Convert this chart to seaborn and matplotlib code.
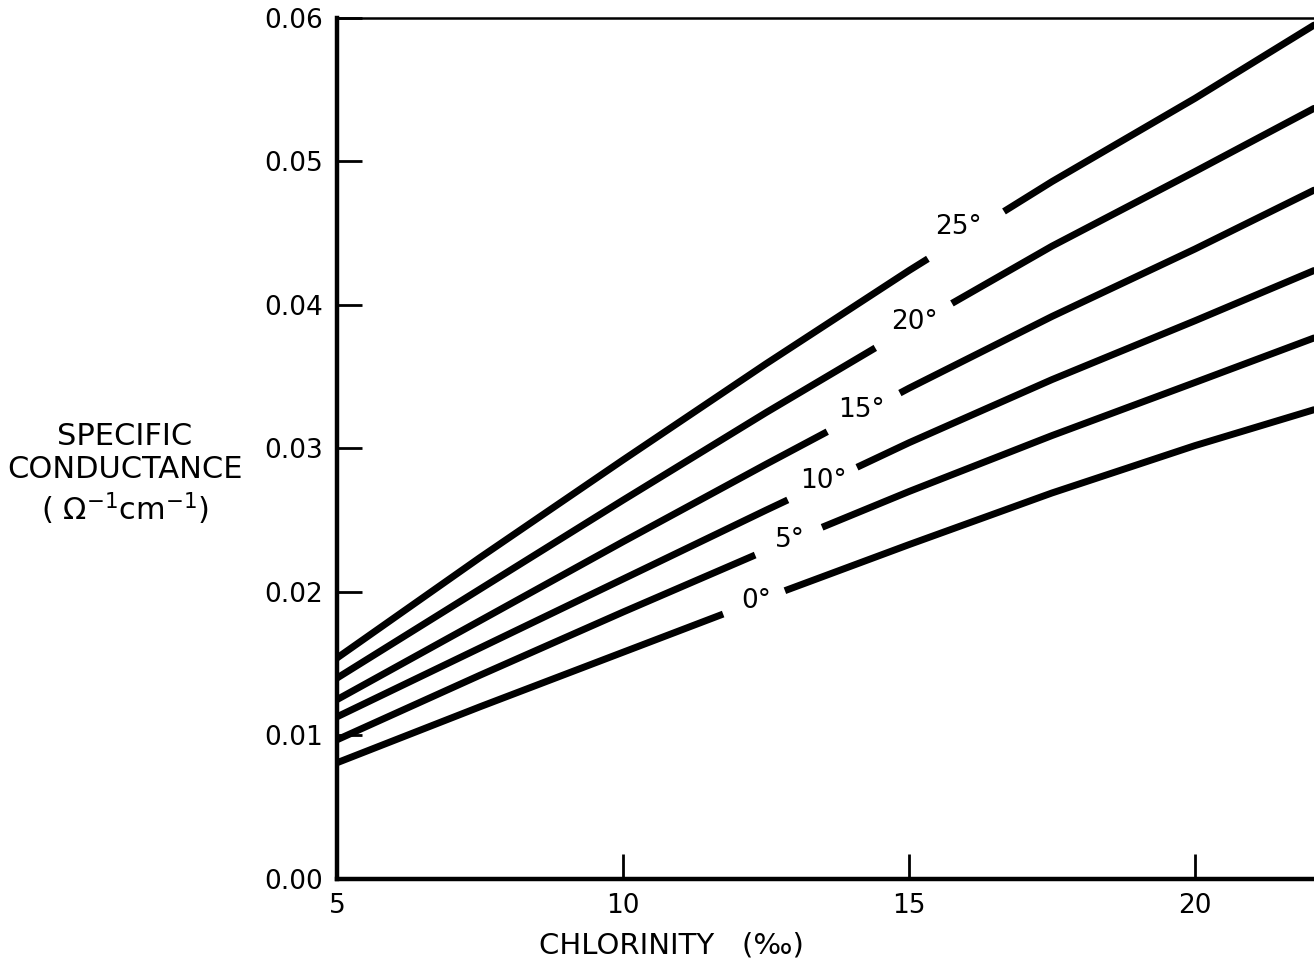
import numpy as np
import pandas as pd
import matplotlib
matplotlib.use("Agg")
import matplotlib.pyplot as plt
import seaborn as sns

# ---- data ----
chlorinity = [5, 7.5, 10, 12.5, 15, 17.5, 20, 22.08]
temperatures = ["0°", "5°", "10°", "15°", "20°", "25°"]
cond_0 = [0.0081, 0.0120, 0.0158, 0.0196, 0.0233, 0.0269, 0.0302, 0.0327]
cond_5 = [0.0097, 0.0142, 0.0186, 0.0229, 0.0270, 0.0309, 0.0346, 0.0377]
cond_10 = [0.0113, 0.0161, 0.0209, 0.0257, 0.0304, 0.0348, 0.0389, 0.0424]
cond_15 = [0.0125, 0.0180, 0.0235, 0.0289, 0.0342, 0.0392, 0.0439, 0.0480]
cond_20 = [0.0140, 0.0202, 0.0264, 0.0325, 0.0384, 0.0441, 0.0493, 0.0537]
cond_25 = [0.0154, 0.0224, 0.0292, 0.0359, 0.0424, 0.0486, 0.0544, 0.0595]

# label anchor positions (chlorinity, conductance)
label_x = [12.33, 12.92, 13.50, 14.16, 15.10, 15.86]
label_y = [0.0194, 0.0236, 0.0277, 0.0327, 0.0388, 0.0454]
# chlorinity range of the break in each curve around its label
gap_start = [11.75, 12.31, 12.88, 13.57, 14.41, 15.33]
gap_end = [12.83, 13.48, 14.09, 14.84, 15.75, 16.66]

x_ticks = [5, 10, 15, 20]
x_ticklabels = ["5", "10", "15", "20"]
y_ticks = [0.00, 0.01, 0.02, 0.03, 0.04, 0.05, 0.06]
y_ticklabels = ["0.00", "0.01", "0.02", "0.03", "0.04", "0.05", "0.06"]

series = [cond_0, cond_5, cond_10, cond_15, cond_20, cond_25]
df = pd.DataFrame({
    "chlorinity": np.tile(chlorinity, len(temperatures)),
    "conductance": np.concatenate(series),
    "temp": np.repeat(temperatures, len(chlorinity)),
})

sns.set_theme(style="white")
plt.rcParams["font.family"] = ["DejaVu Sans"]

fig = plt.figure(figsize=(13.14, 9.66), dpi=100)
ax = fig.add_axes([0.2565, 0.0901, 0.7435, 0.8913])

LW = 5.0
sns.lineplot(data=df, x="chlorinity", y="conductance", hue="temp",
             palette=["black"] * len(temperatures), linewidth=LW,
             legend=False, ax=ax, solid_capstyle="round", zorder=2)

# breaks in each curve where the temperature label sits
for vals, g0, g1 in zip(series, gap_start, gap_end):
    gx = np.array([g0, g1])
    gy = np.interp(gx, chlorinity, vals)
    ax.plot(gx, gy, color="white", linewidth=LW + 3, solid_capstyle="butt", zorder=3)

for t, lx, ly in zip(temperatures, label_x, label_y):
    ax.text(lx, ly, t, fontsize=19, ha="center", va="center", color="black", zorder=5)

ax.set_xlim(5, 22.08)
ax.set_ylim(0, 0.06)
ax.set_xticks(x_ticks)
ax.set_xticklabels(x_ticklabels)
ax.set_yticks(y_ticks)
ax.set_yticklabels(y_ticklabels)

ax.tick_params(axis="both", direction="in", length=18, width=2, color="black",
               labelsize=19, labelcolor="black", left=True, bottom=True)
ax.tick_params(axis="x", pad=10)
ax.tick_params(axis="y", pad=10)

for side in ["left", "bottom"]:
    ax.spines[side].set_linewidth(3.2)
    ax.spines[side].set_color("black")
ax.spines["top"].set_linewidth(1.8)
ax.spines["top"].set_color("black")
ax.spines["right"].set_visible(False)

ax.set_xlabel("CHLORINITY   (‰)", fontsize=21, color="black", va="center")
ax.xaxis.set_label_coords(0.342, -0.077)
ax.set_ylabel("SPECIFIC\nCONDUCTANCE\n( Ω$^{-1}$cm$^{-1}$)", fontsize=22,
              rotation=0, ha="center", va="center", color="black",
              linespacing=1.2)
ax.yaxis.set_label_coords(-0.217, 0.470)

fig.savefig("out.png", dpi=100)
